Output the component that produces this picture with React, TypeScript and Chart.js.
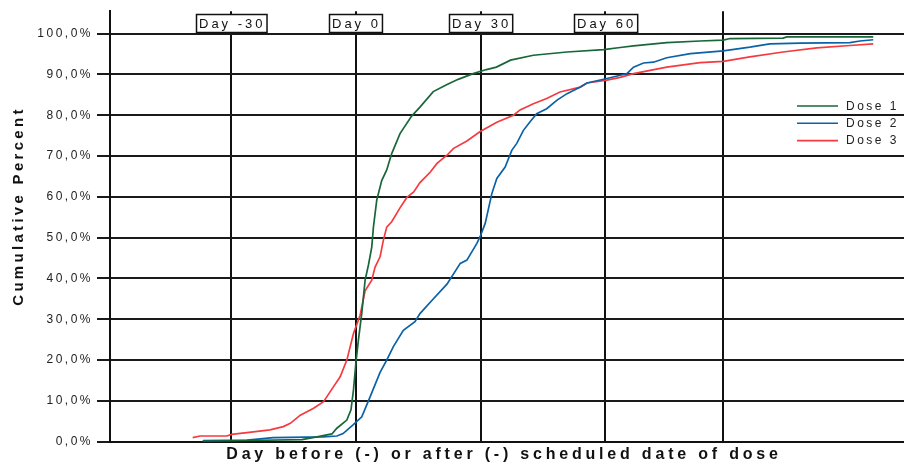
import React, { useEffect, useRef } from "react";
import { Chart, registerables } from "chart.js";

Chart.register(...registerables);

// ---- Data ----
const dose1Days = [-37, -26, -13, -9.4, -5.8, -4.6, -2.2, -1.2, -0.6, 0, 0.6, 1.4, 2.2, 3.0, 3.8, 4.2, 5.0, 6.2, 7.4, 8.6, 10.6, 13.4, 15.4, 18.6, 21.8, 24.6, 28.2, 31.4, 33.8, 37.2, 42.7, 50.8, 59.6, 63.6, 66.8, 74.8, 82.8, 88.4, 90, 102.8, 103.7, 124.5];
const dose1Pct = [0.1, 0.3, 0.5, 1.2, 1.9, 3.3, 5.3, 7.8, 12.7, 19.5, 25, 31.5, 39.6, 43.3, 47.7, 52.6, 59.2, 64, 66.6, 70.6, 75.5, 79.8, 82, 85.8, 87.5, 88.8, 90.2, 91.2, 91.8, 93.5, 94.7, 95.5, 96.1, 96.6, 97, 97.8, 98.2, 98.4, 98.8, 98.9, 99.2, 99.2];

const dose2Days = [-36.8, -26.2, -19.9, -7.9, -4.6, -3.1, -0.7, 1.4, 3.4, 5.8, 7.4, 9.0, 11.4, 14.2, 15.4, 18.7, 21.9, 25.1, 26.7, 29.1, 29.9, 31.1, 32.7, 33.9, 35.9, 37.5, 38.7, 40.3, 41.9, 43.5, 45.9, 48.4, 50.8, 54.0, 55.6, 60.4, 63.6, 65.2, 66.8, 69.2, 71.6, 74.8, 80.5, 88.4, 94.8, 99.6, 106.9, 118.9, 121.3, 124.5];
const dose2Pct = [0.25, 0.4, 1.0, 1.2, 1.4, 2.0, 4.1, 6.1, 11, 17, 20, 23.3, 27.3, 29.4, 31.4, 35.1, 38.6, 43.7, 44.5, 48.6, 50.3, 53.5, 60.8, 64.5, 67.3, 71.4, 73.1, 76.3, 78.4, 80.4, 81.6, 83.7, 85.3, 86.9, 87.9, 89, 89.8, 90.2, 91.8, 92.8, 93, 94.1, 95.1, 95.8, 96.7, 97.5, 97.7, 97.8, 98.2, 98.5];

const dose3Days = [-39.3, -37.5, -31.1, -29.9, -24.7, -20.7, -17.5, -15.8, -13.4, -10.2, -7.8, -5.4, -3.8, -2.2, -0.6, 1.0, 2.2, 3.8, 4.6, 5.8, 6.6, 7.4, 8.6, 10.6, 12.2, 13.9, 15.4, 17.9, 19.5, 21.9, 23.5, 26.7, 29.9, 33.9, 37.9, 39.5, 42.7, 45.9, 49.1, 54.0, 55.6, 60.4, 63.6, 66.8, 74.8, 82.8, 88.4, 94.8, 102.8, 110.9, 118.9, 124.5];
const dose3Pct = [1.0, 1.4, 1.4, 1.8, 2.4, 2.9, 3.7, 4.5, 6.5, 8.2, 9.8, 13.5, 15.9, 20, 26.5, 31, 37, 39.6, 42.8, 45.3, 49.4, 52.6, 53.9, 57.3, 59.8, 61.2, 63.5, 66.1, 68.2, 70.2, 71.9, 73.7, 76, 78.3, 80, 81.3, 82.8, 84.1, 85.7, 86.9, 87.9, 88.6, 89.3, 90.2, 91.8, 92.9, 93.2, 94.3, 95.5, 96.5, 97.1, 97.5];

const seriesNames = ["Dose 1", "Dose 2", "Dose 3"];
const seriesColors = ["#17673a", "#0a62a8", "#f53a40"];

const yTickValues = [0, 10, 20, 30, 40, 50, 60, 70, 80, 90, 100];
const markerDays = [-30, 0, 30, 60];
const markerLabels = ["Day -30", "Day 0", "Day 30", "Day 60"];
const extraGridDays = [88.4];

const xTitle = "Day before (-) or after (-) scheduled date of dose";
const yTitle = "Cumulative Percent";

const FONT = '"Liberation Sans", Arial, Helvetica, sans-serif';

const toPoints = (xs: number[], ys: number[]) => xs.map((x, i) => ({ x, y: ys[i] }));

const decorPlugin = {
  id: "decor",
  beforeDraw(chart: any) {
    chart.ctx.letterSpacing = "2.5px";
  },
  afterDraw(chart: any) {
    const ctx = chart.ctx as CanvasRenderingContext2D & { letterSpacing: string };
    const xs = chart.scales.x;
    ctx.save();

    // Day marker boxes
    ctx.font = `13px ${FONT}`;
    ctx.letterSpacing = "3px";
    ctx.textBaseline = "middle";
    ctx.textAlign = "left";
    markerDays.forEach((d, i) => {
      const px = xs.getPixelForValue(d);
      const label = markerLabels[i];
      const w = ctx.measureText(label).width + 4;
      const left = Math.round(px - w / 2) + 0.5;
      const top = 14.5;
      const h = 18;
      ctx.fillStyle = "#fff";
      ctx.fillRect(left, top, w, h);
      ctx.strokeStyle = "#111";
      ctx.lineWidth = 1.5;
      ctx.strokeRect(left, top, w, h);
      ctx.fillStyle = "#111";
      ctx.fillText(label, left + 2.5, top + h / 2 + 0.5);
    });

    // Legend
    ctx.font = `12px ${FONT}`;
    ctx.letterSpacing = "2.5px";
    seriesNames.forEach((name, i) => {
      const y = 106 + i * 17.3;
      ctx.strokeStyle = seriesColors[i];
      ctx.lineWidth = 1.6;
      ctx.beginPath();
      ctx.moveTo(797, y);
      ctx.lineTo(838, y);
      ctx.stroke();
      ctx.fillStyle = "#222";
      ctx.textAlign = "left";
      ctx.textBaseline = "middle";
      ctx.fillText(name, 846, y + 0.5);
    });

    // Y title
    ctx.save();
    ctx.font = `bold 15px ${FONT}`;
    ctx.letterSpacing = "3.3px";
    ctx.fillStyle = "#111";
    ctx.translate(19, 206);
    ctx.rotate(-Math.PI / 2);
    ctx.textAlign = "center";
    ctx.textBaseline = "middle";
    ctx.fillText(yTitle, 0, 0);
    ctx.restore();

    // X title
    ctx.font = `bold 16px ${FONT}`;
    ctx.letterSpacing = "3.8px";
    ctx.fillStyle = "#111";
    ctx.textAlign = "center";
    ctx.textBaseline = "middle";
    ctx.fillText(xTitle, 504, 455);

    ctx.restore();
    ctx.letterSpacing = "0px";
  },
};

export default function App() {
  const canvasRef = useRef<HTMLCanvasElement | null>(null);

  useEffect(() => {
    if (!canvasRef.current) return;
    const chart = new Chart(canvasRef.current, {
      type: "line",
      data: {
        datasets: [
          { label: seriesNames[0], data: toPoints(dose1Days, dose1Pct), borderColor: seriesColors[0] },
          { label: seriesNames[1], data: toPoints(dose2Days, dose2Pct), borderColor: seriesColors[1] },
          { label: seriesNames[2], data: toPoints(dose3Days, dose3Pct), borderColor: seriesColors[2] },
        ].map((d) => ({ ...d, borderWidth: 1.7, pointRadius: 0, tension: 0, fill: false })),
      },
      options: {
        responsive: false,
        animation: false,
        devicePixelRatio: 1,
        layout: { padding: { top: 11, right: 0, left: 0, bottom: 0 } },
        plugins: { legend: { display: false }, tooltip: { enabled: false } },
        scales: {
          x: {
            type: "linear",
            min: -59.2,
            max: 131.9,
            afterBuildTicks: (s: any) => {
              s.ticks = [...markerDays, ...extraGridDays].map((v) => ({ value: v }));
            },
            afterFit: (s: any) => {
              s.height = 23.3;
            },
            ticks: { display: false },
            grid: { color: "#111", lineWidth: 2, drawTicks: false },
            border: { display: true, color: "#111", width: 2 },
          },
          y: {
            type: "linear",
            min: 0,
            max: 105.5,
            afterBuildTicks: (s: any) => {
              s.ticks = yTickValues.map((v) => ({ value: v }));
            },
            afterFit: (s: any) => {
              s.width = 110;
            },
            ticks: {
              callback: (v: any) => Number(v).toFixed(1).replace(".", ",") + "%",
              font: { size: 12, family: FONT },
              color: "#222",
              padding: 4,
            },
            grid: { color: "#1a1a1a", lineWidth: 2, tickLength: 13, drawTicks: true },
            border: { display: true, color: "#111", width: 2 },
          },
        },
      },
      plugins: [decorPlugin],
    } as any);
    return () => chart.destroy();
  }, []);

  return (
    <div style={{ position: "absolute", left: 0, top: 0, width: 904, height: 465, background: "#fff" }}>
      <canvas ref={canvasRef} width={904} height={465} style={{ display: "block" }} />
    </div>
  );
}
